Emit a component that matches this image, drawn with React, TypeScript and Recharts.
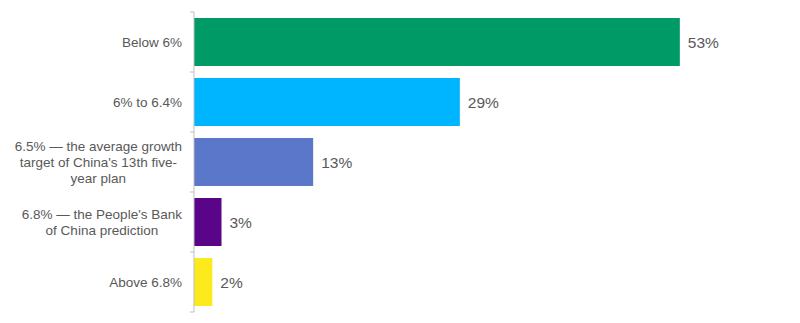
import React from 'react';
import { BarChart, Bar, XAxis, YAxis, Cell, LabelList } from 'recharts';

const categories = [
  'Below 6%',
  '6% to 6.4%',
  "6.5% — the average growth\ntarget of China's 13th five-\nyear plan",
  "6.8% — the People's Bank\nof China prediction",
  'Above 6.8%',
];
const values = [53, 29, 13, 3, 2];
const colors = ['#009A66', '#00B5FF', '#5B77C9', '#5A0589', '#FCEA1C'];

const data = categories.map((c, i) => ({ name: c, value: values[i] }));

const TEXT = '#595959';
const AXIS = '#BFBFBF';
const FONT = 'Liberation Sans, Arial, sans-serif';
const TICK_SIZE = 13.5;

let ctx: CanvasRenderingContext2D | null = null;
const measure = (s: string) => {
  if (!ctx && typeof document !== 'undefined') {
    ctx = document.createElement('canvas').getContext('2d');
  }
  if (!ctx) return s.length * TICK_SIZE * 0.5;
  ctx.font = `${TICK_SIZE}px ${FONT}`;
  return ctx.measureText(s).width;
};

const CategoryTick = (props: any) => {
  const { x, y, payload, index } = props;
  const lines: string[] = String(payload.value).split('\n');
  const lh = 16;
  const start = y - ((lines.length - 1) * lh) / 2;
  const half = 30;
  const ax = x + 12;
  const maxW = Math.max(...lines.map(measure));
  const cx = lines.length > 1 ? x - maxW / 2 : x;
  const anchor = lines.length > 1 ? 'middle' : 'end';
  return (
    <g>
      <line x1={ax - 4} x2={ax} y1={y - half} y2={y - half} stroke={AXIS} />
      {index === categories.length - 1 && (
        <line x1={ax - 4} x2={ax} y1={y + half} y2={y + half} stroke={AXIS} />
      )}
      <text
        x={cx}
        y={start}
        textAnchor={anchor}
        dominantBaseline="central"
        fill={TEXT}
        fontSize={TICK_SIZE}
        fontFamily={FONT}
      >
        {lines.map((l, i) => (
          <tspan key={i} x={cx} y={start + i * lh}>
            {l}
          </tspan>
        ))}
      </text>
    </g>
  );
};

export default function App() {
  return (
    <div style={{ position: 'absolute', left: 0, top: 0, width: 800, height: 323, background: '#fff' }}>
      <BarChart
        width={800}
        height={323}
        data={data}
        layout="vertical"
        margin={{ top: 12, right: 56, bottom: 11, left: 0 }}
        barCategoryGap="10%"
      >
        <XAxis type="number" domain={[0, 60]} hide />
        <YAxis
          type="category"
          dataKey="name"
          width={194}
          axisLine={{ stroke: AXIS }}
          tickLine={false}
          tickMargin={0}
          tick={(p: any) => <CategoryTick {...p} x={182} />}
          interval={0}
        />
        <Bar dataKey="value" isAnimationActive={false}>
          {data.map((d, i) => (
            <Cell key={i} fill={colors[i]} />
          ))}
          <LabelList
            dataKey="value"
            position="right"
            offset={8}
            formatter={(v: any) => `${v}%`}
            fill={TEXT}
            fontSize={15.5}
            fontFamily={FONT}
          />
        </Bar>
      </BarChart>
    </div>
  );
}
